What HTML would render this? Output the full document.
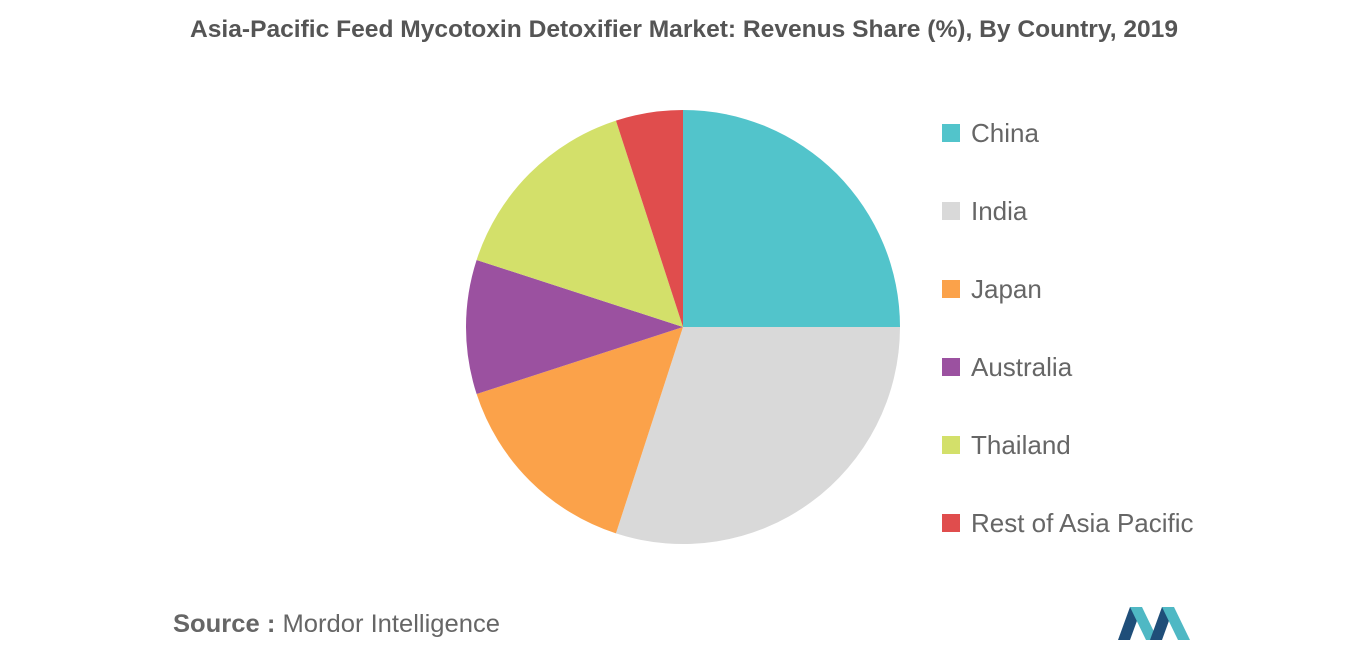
<!DOCTYPE html>
<html><head><meta charset="utf-8">
<style>
body{margin:0;width:1366px;height:655px;background:#fff;font-family:"Liberation Sans",sans-serif;overflow:hidden}
</style></head>
<body>
<svg width="1366" height="655">
<text x="190" y="37" textLength="988" lengthAdjust="spacingAndGlyphs" font-size="24" font-weight="bold" fill="#555">Asia-Pacific Feed Mycotoxin Detoxifier Market: Revenus Share (%), By Country, 2019</text>
<g id="pie"></g>
<g id="legend"></g>
<text x="173" y="632" textLength="327" lengthAdjust="spacingAndGlyphs" font-size="25" fill="#666"><tspan font-weight="bold">Source :</tspan> Mordor Intelligence</text>
<g>
<polygon points="1118,640 1130,607 1142,607 1130,640" fill="#1f4e79"/>
<polygon points="1130,607 1142,607 1158,640 1146,640" fill="#4fb8c4"/>
<polygon points="1150,640 1162,607 1174,607 1162,640" fill="#1f4e79"/>
<polygon points="1162,607 1174,607 1190,640 1178,640" fill="#4fb8c4"/>
</g>
</svg>
<script>
const categories=["China","India","Japan","Australia","Thailand","Rest of Asia Pacific"];
const values=[25,30,15,10,15,5];
const colors=["#52c4cb","#d9d9d9","#fba24a","#9b51a0","#d3e06a","#e04d4d"];
const ns="http://www.w3.org/2000/svg";
const cx=683,cy=327,r=217;
const total=values.reduce((a,b)=>a+b,0);
const pie=document.getElementById('pie');
let a0=0;
function pt(a){return [cx+r*Math.sin(a),cy-r*Math.cos(a)];}
values.forEach((v,i)=>{
  const a1=a0+v/total*2*Math.PI;
  const p0=pt(a0),p1=pt(a1);
  const large=(a1-a0)>Math.PI?1:0;
  const p=document.createElementNS(ns,'path');
  p.setAttribute('d',`M${cx},${cy}L${p0[0]},${p0[1]}A${r},${r} 0 ${large} 1 ${p1[0]},${p1[1]}Z`);
  p.setAttribute('fill',colors[i]);
  
  
  pie.appendChild(p);
  a0=a1;
});
const lg=document.getElementById('legend');
categories.forEach((c,i)=>{
  const y=133+i*78;
  const g=document.createElementNS(ns,'g');
  
  
  const s=document.createElementNS(ns,'rect');
  s.setAttribute('x',942);s.setAttribute('y',y-9);s.setAttribute('width',18);s.setAttribute('height',18);
  s.setAttribute('fill',colors[i]);
  const t=document.createElementNS(ns,'text');
  t.setAttribute('x',971);t.setAttribute('y',y+9);t.setAttribute('font-size',26);t.setAttribute('fill','#666');
  t.textContent=c;
  g.appendChild(s);g.appendChild(t);lg.appendChild(g);
});
</script>
</body></html>
